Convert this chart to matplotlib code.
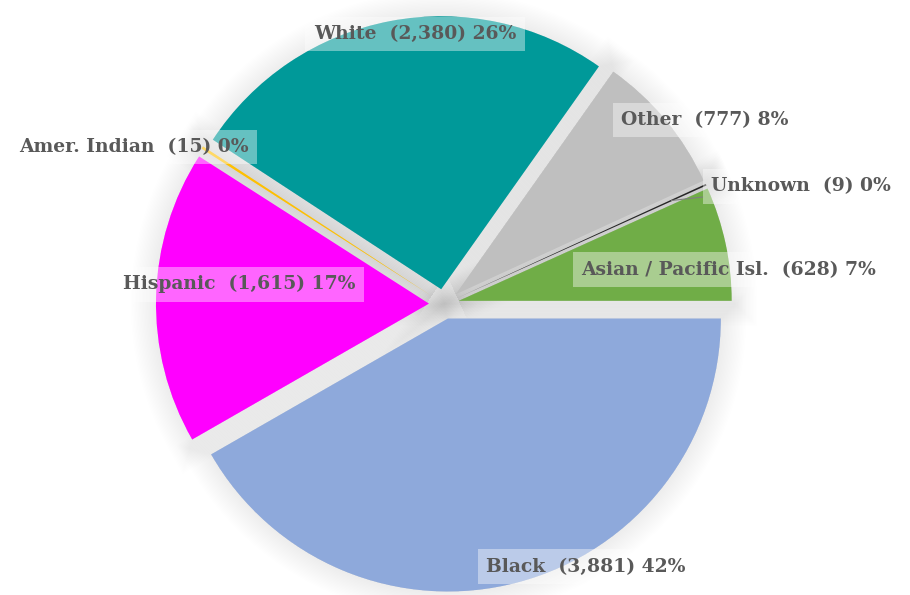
import matplotlib
matplotlib.use("Agg")
import matplotlib.pyplot as plt
import matplotlib.patheffects as pe
import numpy as np

# data, counter-clockwise from 3 o'clock
groups = ["Asian / Pacific Isl.", "Unknown", "Other", "White", "Amer. Indian", "Hispanic", "Black"]
counts = [628, 9, 777, 2380, 15, 1615, 3881]
colors = ["#70AD47", "#262626", "#BFBFBF", "#009999", "#FFC000", "#FF00FF", "#8EA9DB"]

total = sum(counts)
labels = [f"{g}  ({c:,}) {round(100 * c / total)}%" for g, c in zip(groups, counts)]

# label centres (data units, pie radius = 1)
label_pos = [(1.044, 0.125), (1.308, 0.432), (0.956, 0.674), (-0.106, 0.989),
             (-1.136, 0.575), (-0.751, 0.073), (0.520, -0.963)]

explode = [0.055] * len(counts)

fig = plt.figure(figsize=(9.1, 5.95), dpi=100)
ax = fig.add_axes([0, 0, 1, 1])

# soft grey glow under the slices (lots of faint strokes -> smooth fade)
glow = [pe.Stroke(linewidth=w, foreground="#808080", alpha=0.008) for w in range(36, 1, -2)]
ax.pie(counts, explode=explode, startangle=0, counterclock=True, colors=["#eeeeee"] * len(counts),
       wedgeprops=dict(linewidth=0, path_effects=glow, zorder=1))

wedges, _ = ax.pie(counts, explode=explode, startangle=0, counterclock=True, colors=colors,
                   wedgeprops=dict(linewidth=0, zorder=2))

box = dict(boxstyle="square,pad=0.45", facecolor="white", edgecolor="none", alpha=0.4)
font = dict(family="DejaVu Serif", weight="bold", size=13.5, color="#595959")

for i, (lab, (x, y)) in enumerate(zip(labels, label_pos)):
    if groups[i] == "Unknown":
        w = wedges[i]
        ang = np.deg2rad((w.theta1 + w.theta2) / 2)
        cx, cy = w.center
        tip = (cx + 0.86 * np.cos(ang), cy + 0.86 * np.sin(ang))
        ax.annotate(lab, xy=tip, xytext=(x, y), ha="center", va="center", bbox=box, zorder=5,
                    arrowprops=dict(arrowstyle="-", color="#7f7f7f", lw=0.8, shrinkA=0, shrinkB=0),
                    **font)
    else:
        ax.text(x, y, lab, ha="center", va="center", bbox=box, zorder=5, **font)

s = 273.0  # pixels per unit
ax.set_xlim(-444 / s, 466 / s)
ax.set_ylim(-291 / s, 304 / s)
ax.set_aspect("equal", adjustable="datalim")
ax.axis("off")

fig.savefig("out.png", dpi=100)
